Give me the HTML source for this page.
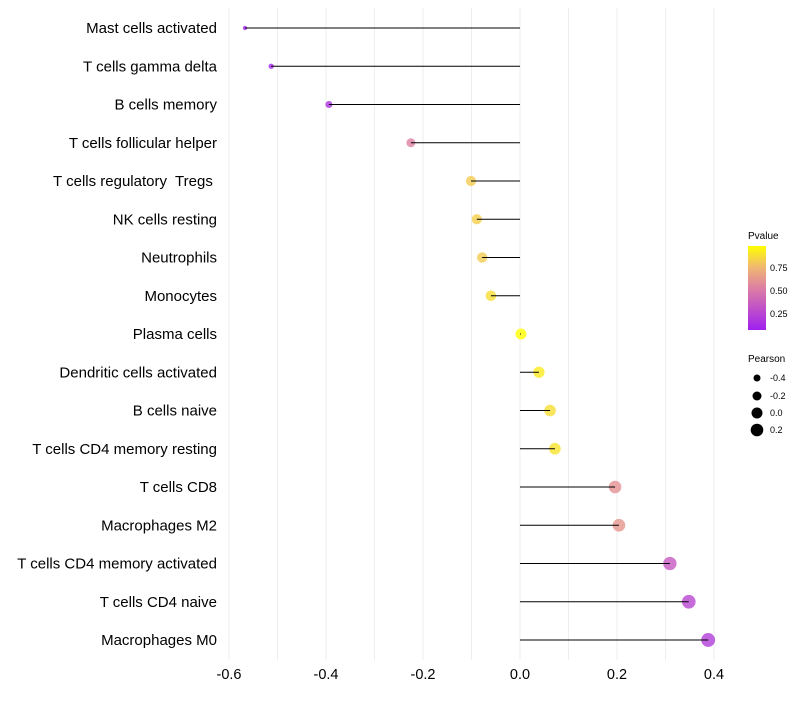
<!DOCTYPE html>
<html><head><meta charset="utf-8"><style>
body{margin:0;background:#fff}
svg text{font-family:"Liberation Sans",sans-serif;white-space:pre}
</style></head><body>
<svg id="chart" width="800" height="700" xmlns="http://www.w3.org/2000/svg">
<defs><linearGradient id="pg" x1="0" y1="1" x2="0" y2="0">
<stop offset="0" stop-color="#a020f0"/><stop offset="0.5" stop-color="#dd7fa3"/><stop offset="0.75" stop-color="#f0b870"/><stop offset="1" stop-color="#ffff00"/>
</linearGradient></defs>
<g id="grid"></g><g id="dots"></g><g id="marks"></g><g id="labels"></g>
<g>
<text x="748" y="239" font-size="10">Pvalue</text>
<rect x="748" y="246" width="18" height="84" fill="url(#pg)"/>
<text x="770" y="271" font-size="9">0.75</text>
<text x="770" y="294" font-size="9">0.50</text>
<text x="770" y="317" font-size="9">0.25</text>
</g>
<g>
<text x="748" y="362" font-size="10">Pearson</text>
<circle cx="757" cy="378" r="3.5"/><text x="770" y="381" font-size="9">-0.4</text>
<circle cx="757" cy="396" r="4.5"/><text x="770" y="399" font-size="9">-0.2</text>
<circle cx="757" cy="413" r="5.5"/><text x="770" y="416" font-size="9">0.0</text>
<circle cx="757" cy="430" r="6.3"/><text x="770" y="433" font-size="9">0.2</text>
</g>
</svg>
<script>
const categories=["Mast cells activated","T cells gamma delta","B cells memory","T cells follicular helper","T cells regulatory  Tregs ","NK cells resting","Neutrophils","Monocytes","Plasma cells","Dendritic cells activated","B cells naive","T cells CD4 memory resting","T cells CD8","Macrophages M2","T cells CD4 memory activated","T cells CD4 naive","Macrophages M0"];
const pearson=[-0.567,-0.513,-0.394,-0.225,-0.101,-0.089,-0.078,-0.060,0.002,0.039,0.062,0.072,0.196,0.204,0.309,0.348,0.388];
const pvalue=[0.02,0.03,0.1,0.5,0.82,0.83,0.82,0.88,1.0,0.93,0.88,0.9,0.58,0.6,0.3,0.2,0.15];
const xTicks=[-0.6,-0.4,-0.2,0.0,0.2,0.4];
const NS="http://www.w3.org/2000/svg";
const x=v=>520+v*485;
const y=i=>28+i*38.25;
const rad=v=>Math.sqrt(Math.max(1,12.25+(v+0.4)*45.7));
const stops=[[0,[160,32,240]],[0.5,[221,127,163]],[0.75,[240,184,112]],[1,[255,255,0]]];
function col(p){for(let k=1;k<stops.length;k++){if(p<=stops[k][0]){const a=stops[k-1],b=stops[k],t=(p-a[0])/(b[0]-a[0]);return "rgb("+a[1].map((c,j)=>Math.round(c+(b[1][j]-c)*t)).join(",")+")";}}return "rgb(255,255,0)";}
function mk(tag,attrs,parent){const e=document.createElementNS(NS,tag);for(const k in attrs)e.setAttribute(k,attrs[k]);parent.appendChild(e);return e;}
const grid=document.getElementById('grid'),dots=document.getElementById('dots'),marks=document.getElementById('marks'),labels=document.getElementById('labels');
for(let v=-0.6;v<=0.41;v+=0.1){const g=mk('line',{x1:x(v),x2:x(v),y1:8,y2:660,stroke:'#eeeeee','stroke-width':1},grid);

}
xTicks.forEach(t=>{const e=mk('text',{x:x(t),y:679,'font-size':14.5,'text-anchor':'middle',fill:'#000'},labels);e.textContent=t.toFixed(1);

});
categories.forEach((c,i)=>{
const t=mk('text',{x:217,y:y(i)+5,'font-size':15,'text-anchor':'end',fill:'#000'},labels);t.textContent=c;


const d=mk('circle',{cx:x(pearson[i]),cy:y(i),r:rad(pearson[i]),fill:col(pvalue[i]),'fill-opacity':0.8},dots);


const l=mk('line',{x1:x(0),x2:x(pearson[i]),y1:y(i),y2:y(i),stroke:'#000','stroke-width':1},marks);


});
</script>
</body></html>
